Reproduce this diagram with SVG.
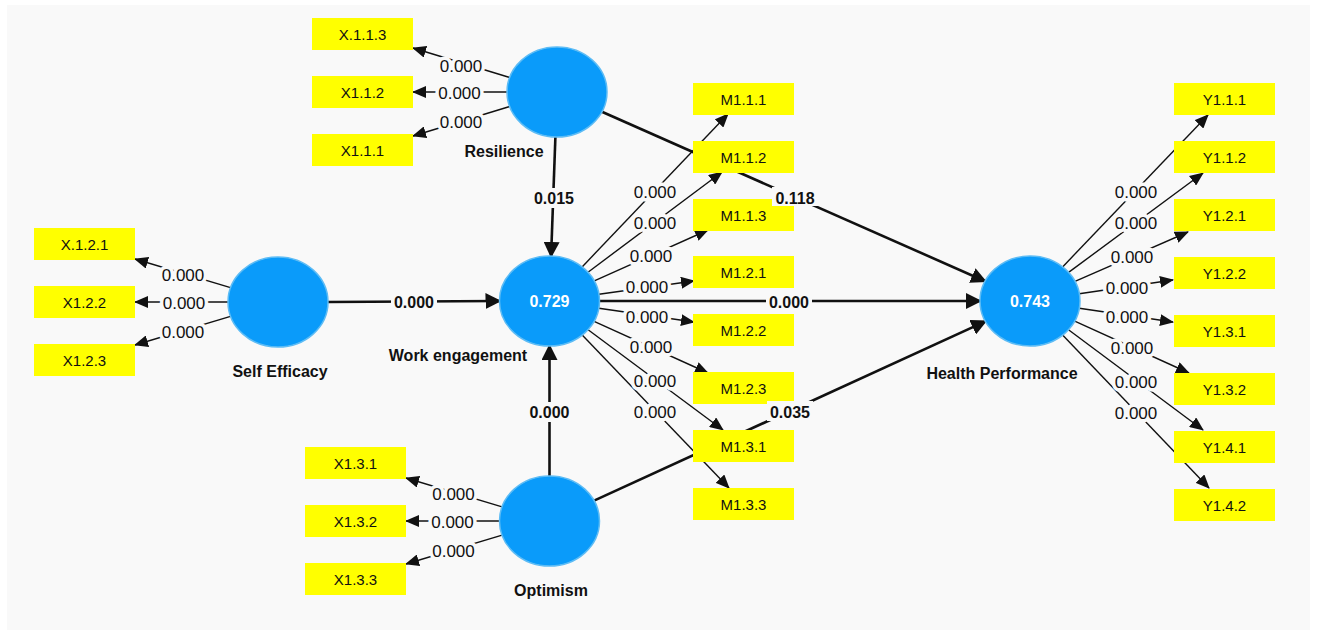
<svg xmlns="http://www.w3.org/2000/svg" width="1318" height="636" viewBox="0 0 1318 636">
<defs>
<style>
.ind{fill:#ffff00}
.it{font-family:"Liberation Sans",Arial,sans-serif;font-size:15px;fill:#111;text-anchor:middle}
.lv{fill:#0a9bfa;stroke:#5dbcf5;stroke-width:1.5}
.ln{font-family:"Liberation Sans",Arial,sans-serif;font-size:16px;font-weight:bold;fill:#111;text-anchor:middle}
.r2{font-family:"Liberation Sans",Arial,sans-serif;font-size:16px;font-weight:bold;fill:#fff;text-anchor:middle}
.ld{stroke:#111;stroke-width:1.4;fill:none;marker-end:url(#ah)}
.pth{stroke:#111;stroke-width:2.6;fill:none;marker-end:url(#ahb)}
.lt{font-family:"Liberation Sans",Arial,sans-serif;font-size:17px;fill:#111;text-anchor:middle;paint-order:stroke;stroke:#f9f9f9;stroke-width:7;stroke-linejoin:round}
.pt{font-family:"Liberation Sans",Arial,sans-serif;font-size:16px;font-weight:bold;fill:#111;text-anchor:middle}
.pb{fill:#f9f9f9}
</style>
<marker id="ah" markerUnits="userSpaceOnUse" markerWidth="14" markerHeight="12" refX="13" refY="6" orient="auto"><path d="M0,0 L14,6 L0,12 Z" fill="#111"/></marker>
<marker id="ahb" markerUnits="userSpaceOnUse" markerWidth="16" markerHeight="16" refX="14" refY="8" orient="auto"><path d="M0,0 L16,8 L0,16 Z" fill="#111"/></marker>
</defs>
<rect x="0" y="0" width="1318" height="636" fill="#ffffff"/>
<rect x="7" y="5" width="1303" height="625" fill="#f9f9f9"/>

<g id="connectors">
<!-- structural paths -->
<line class="pth" x1="555.4" y1="137" x2="551.1" y2="256"/>
<line class="pth" x1="601.9" y1="111.8" x2="985.1" y2="281.2"/>
<line class="pth" x1="328" y1="302" x2="499.5" y2="301"/>
<line class="pth" x1="599.5" y1="301" x2="980" y2="301"/>
<line class="pth" x1="549.5" y1="476" x2="549.5" y2="346"/>
<line class="pth" x1="594.1" y1="500.6" x2="985.4" y2="321.4"/>
<!-- Resilience loadings -->
<line class="ld" x1="509.7" y1="77.5" x2="413" y2="48"/>
<line class="ld" x1="507" y1="92" x2="413" y2="92"/>
<line class="ld" x1="509.7" y1="106.5" x2="413" y2="136"/>
<!-- Self Efficacy loadings -->
<line class="ld" x1="230.5" y1="287.7" x2="135" y2="259"/>
<line class="ld" x1="228" y1="302" x2="135" y2="302"/>
<line class="ld" x1="230.5" y1="316.3" x2="135" y2="345"/>
<!-- Optimism loadings -->
<line class="ld" x1="502.1" y1="506.8" x2="406" y2="478"/>
<line class="ld" x1="499.5" y1="521" x2="406" y2="521"/>
<line class="ld" x1="502.1" y1="535.2" x2="406" y2="564"/>
<!-- Work engagement loadings -->
<line class="ld" x1="582.1" y1="266.9" x2="728" y2="114"/>
<line class="ld" x1="588" y1="272.2" x2="722" y2="172"/>
<line class="ld" x1="594.3" y1="280.9" x2="708" y2="230"/>
<line class="ld" x1="598.9" y1="294.2" x2="694" y2="281"/>
<line class="ld" x1="598.9" y1="308.2" x2="694" y2="322"/>
<line class="ld" x1="594.1" y1="321.3" x2="708" y2="373"/>
<line class="ld" x1="588.1" y1="329.7" x2="723" y2="430"/>
<line class="ld" x1="582.2" y1="335.1" x2="729" y2="488"/>
<!-- Health Performance loadings -->
<line class="ld" x1="1062.6" y1="266.9" x2="1208" y2="115"/>
<line class="ld" x1="1068.6" y1="272.4" x2="1203" y2="173"/>
<line class="ld" x1="1075" y1="281.4" x2="1188" y2="232"/>
<line class="ld" x1="1079.3" y1="293.8" x2="1173" y2="280"/>
<line class="ld" x1="1079.3" y1="308.2" x2="1173" y2="322"/>
<line class="ld" x1="1074.7" y1="321.2" x2="1189" y2="373"/>
<line class="ld" x1="1068.5" y1="329.7" x2="1203" y2="430"/>
<line class="ld" x1="1062.6" y1="335.1" x2="1209" y2="488"/>
</g>

<g id="node-resilience">
<ellipse class="lv" cx="557" cy="92" rx="50" ry="45"/>
<text class="ln" x="504" y="157">Resilience</text>
</g>
<g id="node-self-efficacy">
<ellipse class="lv" cx="278" cy="302" rx="50" ry="45"/>
<text class="ln" x="280" y="377">Self Efficacy</text>
</g>
<g id="node-work-engagement">
<ellipse class="lv" cx="549.5" cy="301" rx="50" ry="45"/>
<text class="r2" x="549.5" y="307">0.729</text>
<text class="ln" x="458" y="361">Work engagement</text>
</g>
<g id="node-optimism">
<ellipse class="lv" cx="549.5" cy="521" rx="50" ry="45"/>
<text class="ln" x="551" y="596">Optimism</text>
</g>
<g id="node-health-performance">
<ellipse class="lv" cx="1030" cy="301" rx="50" ry="45"/>
<text class="r2" x="1030" y="307">0.743</text>
<text class="ln" x="1002" y="379">Health Performance</text>
</g>

<g id="ind-X113"><rect class="ind" x="312" y="18" width="101" height="32"/><text class="it" x="362.5" y="39.5">X.1.1.3</text></g>
<g id="ind-X112"><rect class="ind" x="312" y="76" width="101" height="32"/><text class="it" x="362.5" y="97.5">X1.1.2</text></g>
<g id="ind-X111"><rect class="ind" x="312" y="134" width="101" height="32"/><text class="it" x="362.5" y="155.5">X1.1.1</text></g>

<g id="ind-X121"><rect class="ind" x="34" y="228" width="101" height="32"/><text class="it" x="84.5" y="249.5">X.1.2.1</text></g>
<g id="ind-X122"><rect class="ind" x="34" y="286" width="101" height="32"/><text class="it" x="84.5" y="307.5">X1.2.2</text></g>
<g id="ind-X123"><rect class="ind" x="34" y="344" width="101" height="32"/><text class="it" x="84.5" y="365.5">X1.2.3</text></g>

<g id="ind-X131"><rect class="ind" x="305" y="447" width="101" height="32"/><text class="it" x="355.5" y="468.5">X1.3.1</text></g>
<g id="ind-X132"><rect class="ind" x="305" y="505" width="101" height="32"/><text class="it" x="355.5" y="526.5">X1.3.2</text></g>
<g id="ind-X133"><rect class="ind" x="305" y="563" width="101" height="32"/><text class="it" x="355.5" y="584.5">X1.3.3</text></g>

<g id="ind-M111"><rect class="ind" x="693" y="83" width="101" height="32"/><text class="it" x="743.5" y="104.5">M1.1.1</text></g>
<g id="ind-M112"><rect class="ind" x="693" y="141" width="101" height="32"/><text class="it" x="743.5" y="162.5">M1.1.2</text></g>
<g id="ind-M113"><rect class="ind" x="693" y="199" width="101" height="32"/><text class="it" x="743.5" y="220.5">M1.1.3</text></g>
<g id="ind-M121"><rect class="ind" x="693" y="256" width="101" height="32"/><text class="it" x="743.5" y="277.5">M1.2.1</text></g>
<g id="ind-M122"><rect class="ind" x="693" y="314" width="101" height="32"/><text class="it" x="743.5" y="335.5">M1.2.2</text></g>
<g id="ind-M123"><rect class="ind" x="693" y="372" width="101" height="32"/><text class="it" x="743.5" y="393.5">M1.2.3</text></g>
<g id="ind-M131"><rect class="ind" x="693" y="430" width="101" height="32"/><text class="it" x="743.5" y="451.5">M1.3.1</text></g>
<g id="ind-M133"><rect class="ind" x="693" y="488" width="101" height="32"/><text class="it" x="743.5" y="509.5">M1.3.3</text></g>

<g id="ind-Y111"><rect class="ind" x="1174" y="83" width="101" height="32"/><text class="it" x="1224.5" y="104.5">Y1.1.1</text></g>
<g id="ind-Y112"><rect class="ind" x="1174" y="141" width="101" height="32"/><text class="it" x="1224.5" y="162.5">Y1.1.2</text></g>
<g id="ind-Y121"><rect class="ind" x="1174" y="199" width="101" height="32"/><text class="it" x="1224.5" y="220.5">Y1.2.1</text></g>
<g id="ind-Y122"><rect class="ind" x="1174" y="257" width="101" height="32"/><text class="it" x="1224.5" y="278.5">Y1.2.2</text></g>
<g id="ind-Y131"><rect class="ind" x="1174" y="315" width="101" height="32"/><text class="it" x="1224.5" y="336.5">Y1.3.1</text></g>
<g id="ind-Y132"><rect class="ind" x="1174" y="373" width="101" height="32"/><text class="it" x="1224.5" y="394.5">Y1.3.2</text></g>
<g id="ind-Y141"><rect class="ind" x="1174" y="431" width="101" height="32"/><text class="it" x="1224.5" y="452.5">Y1.4.1</text></g>
<g id="ind-Y142"><rect class="ind" x="1174" y="489" width="101" height="32"/><text class="it" x="1224.5" y="510.5">Y1.4.2</text></g>

<g id="connector-labels">
<text class="lt" x="461" y="71.5">0.000</text>
<text class="lt" x="459.5" y="98.5">0.000</text>
<text class="lt" x="461" y="127.5">0.000</text>

<text class="lt" x="183" y="281">0.000</text>
<text class="lt" x="184" y="308.5">0.000</text>
<text class="lt" x="183" y="337.5">0.000</text>

<text class="lt" x="453.5" y="500">0.000</text>
<text class="lt" x="452.5" y="527.5">0.000</text>
<text class="lt" x="453.5" y="557">0.000</text>

<text class="lt" x="655" y="198">0.000</text>
<text class="lt" x="655" y="229">0.000</text>
<text class="lt" x="651" y="262">0.000</text>
<text class="lt" x="647" y="293">0.000</text>
<text class="lt" x="647" y="323">0.000</text>
<text class="lt" x="651" y="353">0.000</text>
<text class="lt" x="655" y="387">0.000</text>
<text class="lt" x="655" y="418">0.000</text>

<text class="lt" x="1136" y="198">0.000</text>
<text class="lt" x="1136" y="229">0.000</text>
<text class="lt" x="1132" y="263">0.000</text>
<text class="lt" x="1127" y="294">0.000</text>
<text class="lt" x="1127" y="323">0.000</text>
<text class="lt" x="1132" y="354">0.000</text>
<text class="lt" x="1136" y="388">0.000</text>
<text class="lt" x="1136" y="419">0.000</text>

<rect class="pb" x="531" y="188" width="46" height="20"/>
<text class="pt" x="554" y="204">0.015</text>
<rect class="pb" x="772" y="187" width="46" height="19"/>
<text class="pt" x="795" y="204">0.118</text>
<rect class="pb" x="391" y="292" width="46" height="20"/>
<text class="pt" x="414" y="308">0.000</text>
<rect class="pb" x="766" y="292" width="46" height="20"/>
<text class="pt" x="789" y="308">0.000</text>
<rect class="pb" x="526.5" y="402" width="46" height="20"/>
<text class="pt" x="549.5" y="418">0.000</text>
<rect class="pb" x="767" y="401" width="46" height="20"/>
<text class="pt" x="790" y="418">0.035</text>
</g>
</svg>
